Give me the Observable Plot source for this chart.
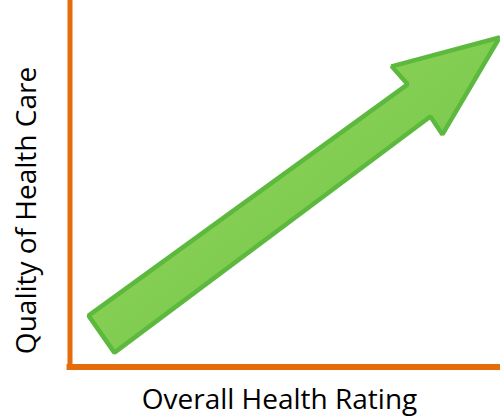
<!DOCTYPE html>
<html>
<head>
<meta charset="utf-8">
<script src="https://cdn.jsdelivr.net/npm/d3@7"></script>
<script src="https://cdn.jsdelivr.net/npm/@observablehq/plot@0.6"></script>
<style>
  html, body { margin: 0; padding: 0; background: #fff; }
  #chart svg { display: block; }
</style>
</head>
<body>
<div id="chart"></div>
<script>
// Conceptual chart: labels and arrow outline in data units (0–100 on both axes)
const xLabel = "Overall Health Rating";
const yLabel = "Quality of Health Care";
const arrowX = [4.2, 10.2, 83.7, 86.5, 99.8, 74.7, 78.4];
const arrowY = [13.9, 3.8, 68.3, 63.4, 89.9, 82.0, 77.1];

const arrow = arrowX.map((x, i) => ({x, y: arrowY[i]}));
const orange = "#e46c0a";

const defs = () => {
  const g = d3.create("svg:defs");
  const lg = g.append("linearGradient")
    .attr("id", "arrowGrad")
    .attr("x1", "0").attr("y1", "0").attr("x2", "1").attr("y2", "1");
  lg.append("stop").attr("offset", "0%").attr("stop-color", "#9bdb5c");
  lg.append("stop").attr("offset", "100%").attr("stop-color", "#68c048");
  return g.node();
};

const chart = Plot.plot({
  width: 500,
  height: 417,
  marginLeft: 70,
  marginRight: 0,
  marginTop: 0,
  marginBottom: 51,
  x: {domain: [0, 100], axis: null},
  y: {domain: [0, 100], axis: null},
  style: {fontFamily: "'Open Sans', sans-serif", background: "#fff"},
  marks: [
    defs,
    Plot.line(arrow, {
      x: "x", y: "y", curve: "linear-closed",
      fill: "url(#arrowGrad)", stroke: "#5cb93e", strokeWidth: 4.5,
      strokeLinejoin: "miter"
    }),
    Plot.ruleX([0], {stroke: orange, strokeWidth: 5, dx: -0.5}),
    Plot.ruleY([0], {stroke: orange, strokeWidth: 6, dy: 0.5, x1: 0, x2: 100, dx: 0}),
    Plot.ruleY([0], {stroke: orange, strokeWidth: 6, dy: 0.5, x1: -0.8, x2: 0}),
    Plot.text([xLabel], {
      frameAnchor: "bottom", dx: -6, dy: 34, fontSize: 28, fill: "#000",
      textAnchor: "middle", lineAnchor: "middle"
    }),
    Plot.text([yLabel], {
      frameAnchor: "left", rotate: -90, dx: -43, dy: 27, fontSize: 28, fill: "#000",
      textAnchor: "middle", lineAnchor: "middle"
    })
  ]
});
document.getElementById("chart").appendChild(chart);
</script>
</body>
</html>
